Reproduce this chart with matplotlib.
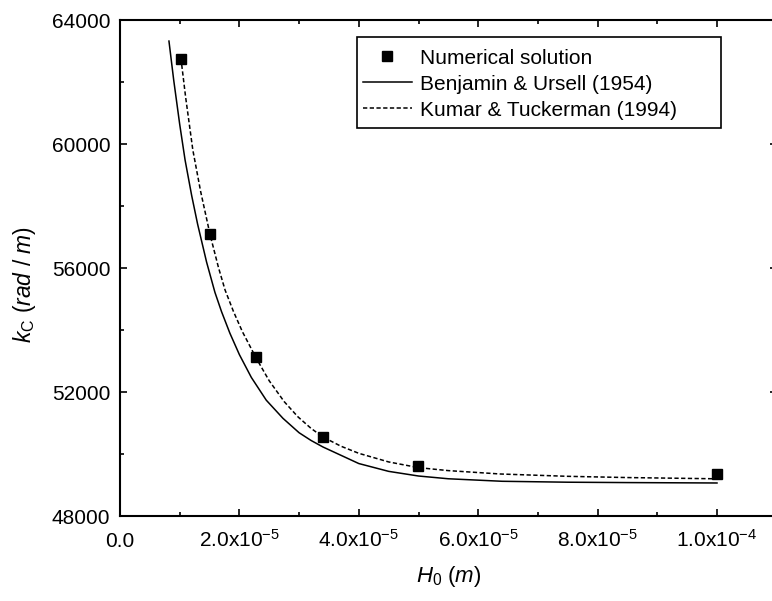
import matplotlib
matplotlib.use("Agg")
import matplotlib.pyplot as plt
from matplotlib.patches import Rectangle
from matplotlib.ticker import MultipleLocator

plt.rcParams['font.family'] = ['Liberation Sans', 'DejaVu Sans']
plt.rcParams['mathtext.fontset'] = 'custom'
plt.rcParams['mathtext.rm'] = 'Liberation Sans'
plt.rcParams['mathtext.it'] = 'Liberation Sans:italic'
plt.rcParams['mathtext.bf'] = 'Liberation Sans:bold'

# Numerical solution (squares)
num_H0 = [1.02e-5, 1.51e-5, 2.27e-5, 3.40e-5, 4.99e-5, 1.0e-4]
num_kc = [62750, 57090, 53120, 50560, 49620, 49340]

# Benjamin & Ursell (1954) - solid curve
bu_H0 = [0.82e-5, 0.9e-5, 1.0e-5, 1.09e-5, 1.2e-5, 1.3e-5, 1.45e-5, 1.59e-5, 1.7e-5, 1.84e-5,
         2.0e-5, 2.2e-5, 2.45e-5, 2.73e-5, 3.0e-5, 3.2e-5, 3.4e-5, 4.0e-5, 4.5e-5, 5.0e-5,
         5.5e-5, 6.4e-5, 7.5e-5, 8.5e-5, 1.0e-4]
bu_kc = [63320, 62055, 60635, 59484, 58342, 57415, 56193, 55215, 54596, 53900,
         53205, 52470, 51736, 51150, 50686, 50437, 50226, 49692, 49440, 49290,
         49201, 49120, 49090, 49078, 49065]

# Kumar & Tuckerman (1994) - dashed curve
kt_H0 = [1.02e-5, 1.1e-5, 1.22e-5, 1.35e-5, 1.51e-5, 1.65e-5, 1.76e-5, 1.9e-5, 2.05e-5, 2.28e-5,
         2.5e-5, 2.75e-5, 2.98e-5, 3.2e-5, 3.4e-5, 3.7e-5, 4.0e-5, 4.5e-5, 5.0e-5, 5.5e-5,
         6.37e-5, 7.5e-5, 8.5e-5, 1.0e-4]
kt_kc = [62774, 61500, 59806, 58475, 57065, 56012, 55290, 54600, 53946, 53097,
         52360, 51690, 51200, 50827, 50548, 50252, 50022, 49744, 49560, 49464,
         49355, 49280, 49240, 49200]

x_ticks = [0.0, 2.0e-5, 4.0e-5, 6.0e-5, 8.0e-5, 1.0e-4]
x_ticklabels = ['0.0', '2.0x10$^{-5}$', '4.0x10$^{-5}$', '6.0x10$^{-5}$',
                '8.0x10$^{-5}$', '1.0x10$^{-4}$']
y_ticks = [48000, 52000, 56000, 60000, 64000]
y_ticklabels = ['48000', '52000', '56000', '60000', '64000']

fig = plt.figure(figsize=(7.72, 6.01), dpi=100)
ax = fig.add_axes([120 / 772, 85 / 601, 656.7 / 772, 496 / 601])

ax.plot(bu_H0, bu_kc, color='black', lw=1.1, ls='-', label='Benjamin & Ursell (1954)', zorder=2)
ax.plot(kt_H0, kt_kc, color='black', lw=1.1, ls=(0, (2.8, 1.6)), label='Kumar & Tuckerman (1994)', zorder=2)
ax.plot(num_H0, num_kc, ls='none', marker='s', ms=7.5, color='black', label='Numerical solution', zorder=3)

ax.set_xlim(0, 1.1e-4)
ax.set_ylim(48000, 64000)
ax.set_xticks(x_ticks, x_ticklabels)
ax.set_yticks(y_ticks, y_ticklabels)
ax.xaxis.set_minor_locator(MultipleLocator(1e-5))
ax.yaxis.set_minor_locator(MultipleLocator(2000))

ax.tick_params(which='both', direction='in', top=True, right=True, width=1.2)
ax.tick_params(which='major', length=5)
ax.tick_params(which='minor', length=3)
ax.tick_params(axis='x', labelsize=15, pad=22)
ax.tick_params(axis='y', labelsize=15, pad=7)
for lab in ax.get_xticklabels():
    lab.set_va('baseline')

for s in ax.spines.values():
    s.set_linewidth(1.5)

ax.set_xlabel(r'$H_{0}\ (m)$', fontsize=16, labelpad=10)
ax.set_ylabel(r'$k_{\mathrm{C}}\ (rad\ /\ m)$', fontsize=16.5)
ax.yaxis.set_label_coords(-0.125, 0.466)

# legend box
ax.add_patch(Rectangle((0.3609, 0.7823), 0.5543, 0.1835, transform=ax.transAxes,
                       facecolor='white', edgecolor='black', lw=1.2, zorder=4))

handles, labels = ax.get_legend_handles_labels()
order = [2, 0, 1]
leg = ax.legend([handles[i] for i in order], [labels[i] for i in order],
                loc='upper left', bbox_to_anchor=(0.370, 0.9425), fontsize=15,
                frameon=False, handlelength=2.35, handletextpad=0.38, borderpad=0.0,
                labelspacing=0.34, borderaxespad=0.0)
leg.set_zorder(5)

fig.savefig('out.png', dpi=100)
